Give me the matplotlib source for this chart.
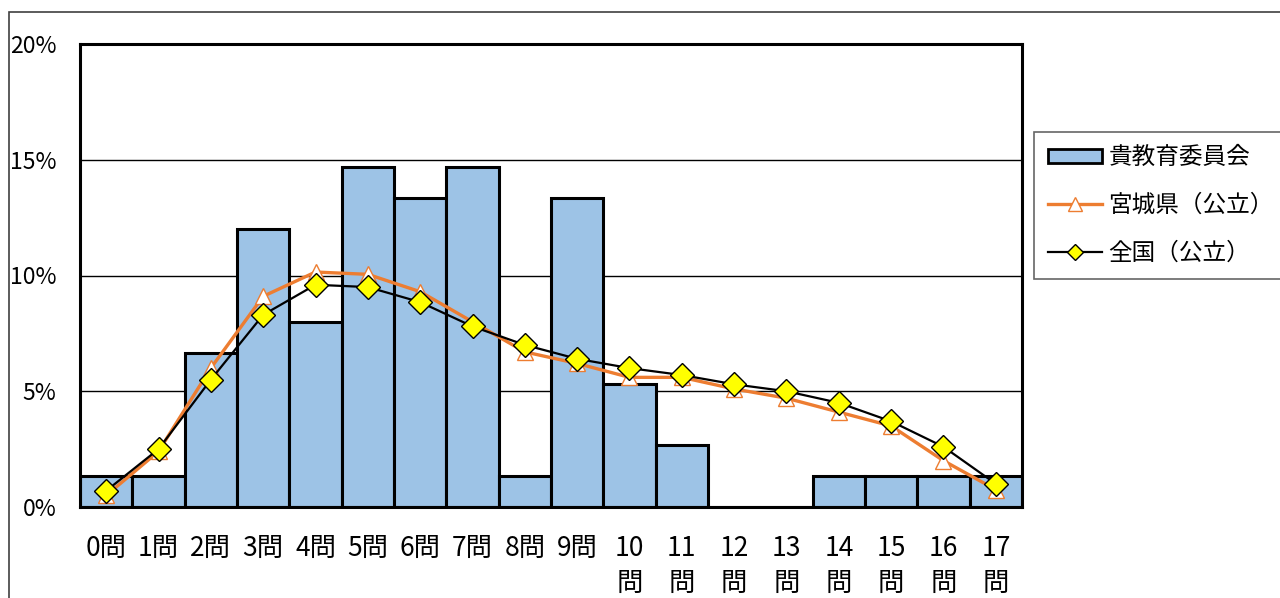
import matplotlib
matplotlib.use("Agg")
import matplotlib.pyplot as plt
from matplotlib.patches import Rectangle
from matplotlib.lines import Line2D
from matplotlib.patches import Patch
import numpy as np

categories = ["0問", "1問", "2問", "3問", "4問", "5問", "6問", "7問", "8問", "9問",
              "10\n問", "11\n問", "12\n問", "13\n問", "14\n問", "15\n問", "16\n問", "17\n問"]
board = [1.33, 1.33, 6.67, 12.0, 8.0, 14.67, 13.33, 14.67, 1.33, 13.33,
         5.33, 2.67, 0, 0, 1.33, 1.33, 1.33, 1.33]
miyagi = [0.5, 2.4, 6.0, 9.1, 10.15, 10.05, 9.3, 8.0, 6.7, 6.2,
          5.6, 5.6, 5.1, 4.7, 4.1, 3.5, 2.0, 0.75]
national = [0.7, 2.5, 5.5, 8.3, 9.6, 9.5, 8.85, 7.8, 7.0, 6.4,
            6.0, 5.7, 5.3, 5.0, 4.5, 3.7, 2.6, 1.0]
yticks = [0, 5, 10, 15, 20]
ytick_labels = ["0%", "5%", "10%", "15%", "20%"]
series_names = ["貴教育委員会", "宮城県（公立）", "全国（公立）"]

FONT = ['Noto Sans CJK JP', 'DejaVu Sans']
plt.rcParams['font.family'] = FONT

fig = plt.figure(figsize=(12.8, 5.98), dpi=100)
# outer chart border
fig.patches.append(Rectangle((9/1280, -0.1), 1.2, 1 - 12/598 + 0.1, transform=fig.transFigure,
                             fill=False, edgecolor='#404040', linewidth=1.2))

ax = fig.add_axes([80/1280, 1 - 507/598, 942/1280, 463/598])
x = np.arange(len(categories))
ax.bar(x, board, width=1.0, color='#9DC3E6', edgecolor='black', linewidth=2.2, zorder=2)
ax.plot(x, miyagi, color='#ED7D31', linewidth=2.4, marker='^', markersize=11,
        markerfacecolor='white', markeredgecolor='#ED7D31', markeredgewidth=1.0, zorder=3)
ax.plot(x, national, color='black', linewidth=1.6, marker='D', markersize=12.5,
        markerfacecolor='#FFFF00', markeredgecolor='black', markeredgewidth=1.0, zorder=4)

ax.set_xlim(-0.5, len(categories) - 0.5)
ax.set_ylim(0, 20)
ax.set_yticks(yticks)
ax.set_yticklabels(ytick_labels, fontsize=16.5)
ax.set_xticks(x)
ax.set_xticklabels(categories, fontsize=19, linespacing=1.4, va='top')
ax.tick_params(axis='both', length=0)
ax.tick_params(axis='y', pad=17)
ax.tick_params(axis='x', pad=20)
ax.yaxis.grid(True, color='black', linewidth=1.0, zorder=0)
ax.set_axisbelow(True)
for s in ax.spines.values():
    s.set_linewidth(2.2)
    s.set_color('black')
    s.set_zorder(5)

handles = [Patch(facecolor='#9DC3E6', edgecolor='black', linewidth=2.0),
           Line2D([], [], color='#ED7D31', linewidth=2.4, marker='^', markersize=10,
                  markerfacecolor='white', markeredgecolor='#ED7D31', markeredgewidth=1.0),
           Line2D([], [], color='black', linewidth=1.6, marker='D', markersize=8,
                  markerfacecolor='#FFFF00', markeredgecolor='black', markeredgewidth=1.0)]
leg = fig.legend(handles, series_names, loc='upper left',
                 bbox_to_anchor=(1034/1280, 1 - 132/598), borderaxespad=0,
                 frameon=True, fancybox=False, edgecolor='#404040', borderpad=0.6,
                 labelspacing=1.05, handlelength=2.3, handleheight=0.5, handletextpad=0.25,
                 prop={'family': ['Noto Sans CJK JP', 'DejaVu Sans'], 'size': 17})
leg.get_frame().set_linewidth(1.2)

fig.savefig("out.png", dpi=100)
